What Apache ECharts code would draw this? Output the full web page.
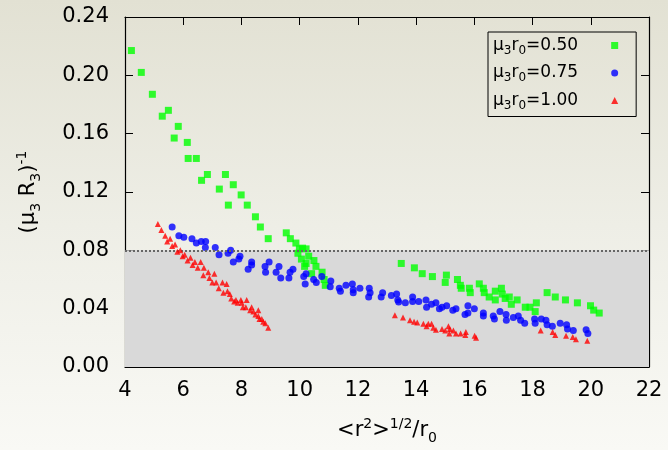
<!DOCTYPE html>
<html>
<head>
<meta charset="utf-8">
<script src="https://cdn.jsdelivr.net/npm/echarts@6/dist/echarts.min.js"></script>
<style>
html,body{margin:0;padding:0;}
body{width:668px;height:450px;background:linear-gradient(to bottom,#e2e1d3 0%,#eeeee6 50%,#f9f9f5 100%);}
#c{width:668px;height:450px;}
</style>
</head>
<body>
<div id="c"></div>
<script>
// ---- data ----
const xTicks = [4, 6, 8, 10, 12, 14, 16, 18, 20, 22];
const yTicks = [0.00, 0.04, 0.08, 0.12, 0.16, 0.20, 0.24];
const threshold = 0.08;
const seriesNames = ['μ3r0=0.50', 'μ3r0=0.75', 'μ3r0=1.00'];
const legendLabels = ['0.50', '0.75', '1.00'];

const mu050 = [
 [4.22,0.217],[4.56,0.202],[4.94,0.187],[5.28,0.172],[5.49,0.176],[5.69,0.157],[5.83,0.165],
 [6.14,0.154],[6.17,0.143],[6.45,0.143],[6.63,0.128],[6.83,0.132],[7.24,0.122],[7.45,0.132],
 [7.55,0.111],[7.72,0.125],[7.99,0.118],[8.20,0.111],[8.48,0.103],[8.65,0.096],[8.92,0.088],
 [9.54,0.092],[9.68,0.088],[9.87,0.085],[9.99,0.081],[10.10,0.0815],[10.22,0.081],[9.94,0.078],
 [10.31,0.076],[10.06,0.074],[10.49,0.073],[10.22,0.071],[10.56,0.069],[10.17,0.069],
 [10.41,0.064],[10.77,0.065],[10.84,0.060],[10.88,0.056],
 [13.49,0.071],[13.94,0.068],[14.21,0.064],[14.56,0.062],[15.00,0.058],[15.04,0.063],
 [15.42,0.060],[15.52,0.056],[15.55,0.054],[15.83,0.054],[15.86,0.051],[16.17,0.057],
 [16.31,0.054],[16.34,0.051],[16.51,0.048],[16.72,0.052],[16.72,0.046],[16.93,0.054],
 [16.96,0.050],[17.06,0.047],[17.20,0.048],[17.27,0.043],[17.47,0.046],[17.75,0.041],
 [17.91,0.041],[18.09,0.038],[18.13,0.044],[18.50,0.051],[18.78,0.048],[19.13,0.046],
 [19.54,0.044],[19.99,0.042],[20.10,0.039],[20.29,0.037]
];
const mu075 = [
 [5.62,0.096],[5.85,0.090],[6.02,0.089],[6.30,0.088],[6.45,0.085],[6.62,0.086],[6.77,0.086],
 [6.76,0.082],[7.10,0.082],[7.23,0.077],[7.54,0.078],[7.63,0.080],[7.72,0.072],[7.91,0.074],
 [7.95,0.076],[8.35,0.072],[8.35,0.070],[8.23,0.067],[8.81,0.069],[8.83,0.065],[8.95,0.072],
 [9.19,0.065],[9.29,0.069],[9.35,0.061],[9.63,0.061],[9.67,0.065],[9.77,0.067],[10.14,0.062],
 [10.22,0.064],[10.19,0.057],[10.48,0.060],[10.57,0.058],[10.76,0.062],[11.07,0.059],
 [11.05,0.055],[11.36,0.054],[11.40,0.052],[11.59,0.056],[11.81,0.057],[11.84,0.053],
 [11.84,0.051],[12.07,0.054],[12.39,0.054],[12.42,0.051],[12.37,0.048],[12.85,0.051],
 [12.80,0.048],[13.15,0.049],[13.33,0.050],[13.37,0.046],[13.40,0.0445],[13.63,0.044],
 [13.88,0.048],[13.88,0.045],[14.09,0.045],[14.34,0.046],[14.36,0.041],[14.53,0.043],
 [14.68,0.044],[14.80,0.040],[14.89,0.041],[15.05,0.042],[15.26,0.039],[15.37,0.040],
 [15.68,0.036],[15.78,0.042],[15.78,0.037],[16.00,0.040],[16.31,0.037],[16.31,0.035],
 [16.65,0.035],[16.69,0.033],[16.88,0.038],[17.09,0.036],[17.10,0.032],[17.34,0.034],
 [17.51,0.035],[17.59,0.032],[17.73,0.030],[18.07,0.033],[18.09,0.030],[18.30,0.033],
 [18.46,0.032],[18.50,0.029],[18.68,0.028],[18.95,0.030],[19.17,0.029],[19.20,0.026],
 [19.40,0.025],[19.84,0.0255],[19.90,0.023]
];
const mu100 = [
 [5.13,0.098],[5.25,0.094],[5.38,0.090],[5.45,0.086],[5.55,0.088],[5.62,0.083],[5.72,0.084],
 [5.80,0.079],[5.90,0.080],[5.98,0.076],[6.05,0.077],[6.15,0.073],[6.25,0.075],[6.32,0.070],
 [6.40,0.072],[6.50,0.068],[6.60,0.072],[6.71,0.068],[6.69,0.063],[6.86,0.065],[6.90,0.061],
 [7.07,0.064],[7.00,0.058],[7.13,0.058],[7.22,0.054],[7.35,0.058],[7.38,0.051],[7.49,0.057],
 [7.52,0.052],[7.60,0.050],[7.65,0.047],[7.81,0.046],[7.75,0.045],[7.87,0.044],[7.98,0.046],
 [8.01,0.044],[8.05,0.041],[8.18,0.046],[8.15,0.041],[8.30,0.039],[8.35,0.041],[8.41,0.038],
 [8.48,0.036],[8.58,0.039],[8.58,0.035],[8.62,0.033],[8.70,0.033],[8.75,0.031],[8.82,0.030],
 [8.92,0.027],
 [13.27,0.0355],[13.55,0.034],[13.79,0.032],[13.93,0.031],[14.04,0.0305],[14.25,0.0296],
 [14.36,0.028],[14.42,0.0296],[14.53,0.0296],[14.59,0.027],[14.68,0.0255],[14.89,0.026],
 [15.00,0.025],[15.11,0.028],[15.16,0.026],[15.14,0.023],[15.28,0.025],[15.37,0.023],
 [15.53,0.023],[15.69,0.022],[15.71,0.024],[16.01,0.0215],[16.06,0.020],
 [18.28,0.025],[18.69,0.024],[18.78,0.022],[19.15,0.0215],[19.38,0.0205],[19.49,0.019],
 [19.88,0.018]
];

// ---- chart ----
const FONT = 'DejaVu Sans';
const chart = echarts.init(document.getElementById('c'), null, {renderer: 'canvas'});
const tickStyle = {show: true, inside: true, length: 8, lineStyle: {color: '#000', width: 1}};
const lineStyle = {show: true, onZero: false, lineStyle: {color: '#000', width: 1.2}};
const xMin = xTicks[0], xMax = xTicks[xTicks.length - 1], xStep = xTicks[1] - xTicks[0];
const yMin = yTicks[0], yMax = yTicks[yTicks.length - 1], yStep = yTicks[1] - yTicks[0];

const richMain = {
  n: {fontSize: 21, fontFamily: FONT, color: '#000', lineHeight: 28},
  s: {fontSize: 14, fontFamily: FONT, color: '#000', lineHeight: 14, verticalAlign: 'bottom'},
  p: {fontSize: 14, fontFamily: FONT, color: '#000', lineHeight: 14, verticalAlign: 'top'}
};
const richLegend = {
  n: {fontSize: 17, fontFamily: FONT, color: '#000', lineHeight: 22},
  s: {fontSize: 12, fontFamily: FONT, color: '#000', lineHeight: 12, verticalAlign: 'bottom'},
  w: {width: 28, lineHeight: 22}
};

const option = {
  backgroundColor: 'transparent',
  animation: false,
  grid: {left: 125, top: 17, width: 524, height: 354, show: false},
  legend: {
    left: 488, top: 32, orient: 'vertical', align: 'right',
    borderColor: '#000', borderWidth: 1, padding: [5, 18, 5, 5], itemGap: 8,
    itemWidth: 7, itemHeight: 7,
    textStyle: {fontSize: 17, fontFamily: FONT, color: '#000', rich: richLegend},
    formatter: function (name) {
      const i = seriesNames.indexOf(name);
      return '{n|μ}{s|3}{n|r}{s|0}{n|=' + legendLabels[i] + '}{w|}';
    },
    data: [
      {name: seriesNames[0], icon: 'rect'},
      {name: seriesNames[1], icon: 'circle'},
      {name: seriesNames[2], icon: 'triangle'}
    ]
  },
  xAxis: [
    {type: 'value', min: xMin, max: xMax, interval: xStep, position: 'bottom',
     axisLine: lineStyle, axisTick: tickStyle, splitLine: {show: false},
     axisLabel: {fontSize: 21, fontFamily: FONT, color: '#000', margin: 13},
     name: '{n|<r}{p|2}{n|>}{p|1/2}{n|/r}{s|0}', nameLocation: 'middle', nameGap: 50,
     nameTextStyle: {rich: richMain}},
    {type: 'value', min: xMin, max: xMax, interval: xStep, position: 'top',
     axisLine: lineStyle, axisTick: tickStyle, splitLine: {show: false}, axisLabel: {show: false}}
  ],
  yAxis: [
    {type: 'value', min: yMin, max: yMax, interval: yStep, position: 'left',
     axisLine: lineStyle, axisTick: tickStyle, splitLine: {show: false},
     axisLabel: {fontSize: 21, fontFamily: FONT, color: '#000', margin: 16,
       formatter: v => v.toFixed(2)},
     name: '{n|(μ}{s|3}{n| R}{s|3}{n|)}{p|-1}', nameLocation: 'middle', nameGap: 82, nameRotate: 90,
     nameTextStyle: {rich: richMain}},
    {type: 'value', min: yMin, max: yMax, interval: yStep, position: 'right',
     axisLine: lineStyle, axisTick: tickStyle, splitLine: {show: false}, axisLabel: {show: false}}
  ],
  series: [
    {type: 'line', data: [], z: 0, silent: true,
     markArea: {silent: true, itemStyle: {color: '#d9d9d9'}, data: [[{yAxis: yMin}, {yAxis: threshold}]]},
     markLine: {silent: true, symbol: 'none', label: {show: false},
       lineStyle: {color: '#666', type: [2, 2], width: 2}, data: [{yAxis: threshold}]}},
    {name: seriesNames[0], type: 'scatter', data: mu050, symbol: 'rect', symbolSize: 7,
     itemStyle: {color: '#00ff00'}, z: 3},
    {name: seriesNames[1], type: 'scatter', data: mu075, symbol: 'circle', symbolSize: 7,
     itemStyle: {color: '#0000ff'}, z: 4},
    {name: seriesNames[2], type: 'scatter', data: mu100, symbol: 'triangle', symbolSize: 6,
     itemStyle: {color: '#ff0000'}, z: 5}
  ]
};
chart.setOption(option);
</script>
</body>
</html>
